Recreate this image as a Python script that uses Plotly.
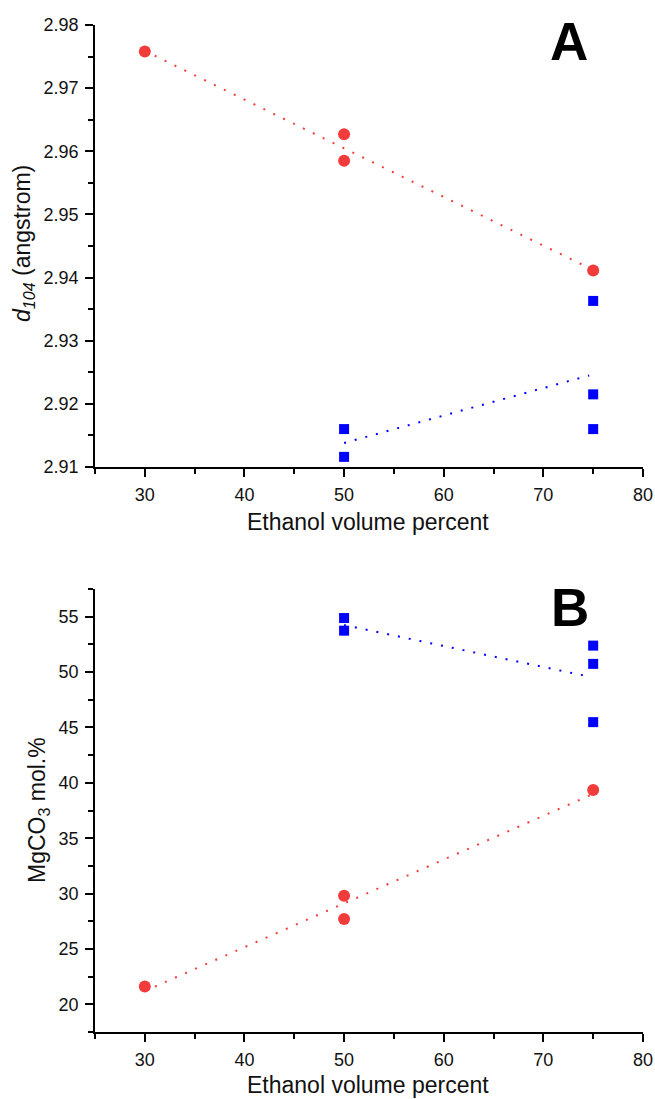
import plotly.graph_objects as go

# Panel A: d104 spacing vs ethanol volume percent
a_red_x = [30, 50, 50, 75]
a_red_y = [2.9758, 2.9627, 2.9585, 2.9411]
a_blue_x = [50, 50, 75, 75, 75]
a_blue_y = [2.9160, 2.9116, 2.9363, 2.9215, 2.9160]
a_red_fit_x = [30, 75]
a_red_fit_y = [2.9759, 2.9412]
a_blue_fit_x = [50, 74.6]
a_blue_fit_y = [2.9138, 2.9245]

# Panel B: MgCO3 content vs ethanol volume percent
b_red_x = [30, 50, 50, 75]
b_red_y = [21.6, 29.8, 27.7, 39.35]
b_blue_x = [50, 50, 75, 75, 75]
b_blue_y = [54.88, 53.74, 52.39, 50.74, 45.48]
b_red_fit_x = [30, 75]
b_red_fit_y = [21.2, 39.0]
b_blue_fit_x = [50, 74.8]
b_blue_fit_y = [54.25, 49.55]

x_ticks = [30, 40, 50, 60, 70, 80]
a_y_ticks = [2.91, 2.92, 2.93, 2.94, 2.95, 2.96, 2.97, 2.98]
b_y_ticks = [20, 25, 30, 35, 40, 45, 50, 55]

RED = "#F23C3C"
BLUE = "#0000FF"
FONT = "Liberation Sans, Arial, sans-serif"

fig = go.Figure()


def add_panel(xa, ya, rx, ry, bx, by, rfx, rfy, bfx, bfy):
    fig.add_trace(go.Scatter(x=rfx, y=rfy, mode="lines", xaxis=xa, yaxis=ya,
                             line=dict(color=RED, width=2, dash="2px,9px"),
                             showlegend=False, hoverinfo="skip"))
    fig.add_trace(go.Scatter(x=bfx, y=bfy, mode="lines", xaxis=xa, yaxis=ya,
                             line=dict(color=BLUE, width=2, dash="2px,9px"),
                             showlegend=False, hoverinfo="skip"))
    fig.add_trace(go.Scatter(x=rx, y=ry, mode="markers", xaxis=xa, yaxis=ya,
                             marker=dict(symbol="circle", size=12, color=RED,
                                         line=dict(width=0)),
                             showlegend=False))
    fig.add_trace(go.Scatter(x=bx, y=by, mode="markers", xaxis=xa, yaxis=ya,
                             marker=dict(symbol="square", size=10, color=BLUE,
                                         line=dict(width=0)),
                             showlegend=False))


add_panel("x", "y", a_red_x, a_red_y, a_blue_x, a_blue_y,
          a_red_fit_x, a_red_fit_y, a_blue_fit_x, a_blue_fit_y)
add_panel("x2", "y2", b_red_x, b_red_y, b_blue_x, b_blue_y,
          b_red_fit_x, b_red_fit_y, b_blue_fit_x, b_blue_fit_y)

axis_common = dict(
    showline=True, linecolor="black", linewidth=1.5, mirror=False,
    ticks="outside", ticklen=8, tickwidth=1.5, tickcolor="black",
    ticklabelstandoff=3,
    showgrid=False, zeroline=False, automargin=False,
    tickfont=dict(family=FONT, size=18, color="#111111"),
)
minor_common = dict(ticks="outside", ticklen=5, tickwidth=1.5,
                    tickcolor="black")

fig.update_layout(
    width=655, height=1099,
    margin=dict(l=95, r=12, t=25, b=67, autoexpand=False),
    paper_bgcolor="white", plot_bgcolor="white",
    font=dict(family=FONT, color="#111111"),
    xaxis=dict(domain=[0, 1], range=[25, 80], anchor="y",
               tickvals=x_ticks,
               minor=dict(dtick=5, tick0=25, **minor_common),
               **axis_common),
    yaxis=dict(domain=[0.5611, 1], range=[2.91, 2.98], anchor="x",
               tickvals=a_y_ticks, ticktext=[f"{v:.2f}" for v in a_y_ticks],
               minor=dict(dtick=0.005, tick0=2.91, **minor_common),
               **axis_common),
    xaxis2=dict(domain=[0, 1], range=[25, 80], anchor="y2",
                tickvals=x_ticks,
                minor=dict(dtick=5, tick0=25, **minor_common),
                **axis_common),
    yaxis2=dict(domain=[0, 0.4399], range=[17.5, 57.5], anchor="x2",
                tickvals=b_y_ticks,
                minor=dict(dtick=2.5, tick0=17.5, **minor_common),
                **axis_common),
)

# Axis titles and panel letters placed in pixel-accurate paper coordinates
H_PLOT = 1099 - 25 - 67
W_PLOT = 655 - 95 - 12


def py(p):
    return (1032 - p) / H_PLOT


def px(p):
    return (p - 95) / W_PLOT


title_font = dict(family=FONT, size=23, color="#111111")
fig.add_annotation(text="Ethanol volume percent", xref="paper", yref="paper",
                   x=px(368), y=py(522), showarrow=False, font=title_font,
                   xanchor="center", yanchor="middle")
fig.add_annotation(text="Ethanol volume percent", xref="paper", yref="paper",
                   x=px(368), y=py(1085), showarrow=False, font=title_font,
                   xanchor="center", yanchor="middle")
fig.add_annotation(text="<i>d</i><sub><i>104</i></sub> (angstrom)", xref="paper",
                   yref="paper", x=px(24), y=py(244), showarrow=False,
                   textangle=-90, font=title_font,
                   xanchor="center", yanchor="middle")
fig.add_annotation(text="MgCO<sub>3</sub> mol.%", xref="paper", yref="paper",
                   x=px(38), y=py(810), showarrow=False, textangle=-90,
                   font=title_font, xanchor="center", yanchor="middle")
fig.add_annotation(text="<b>A</b>", xref="paper", yref="paper",
                   x=px(569), y=py(42), showarrow=False,
                   font=dict(family=FONT, size=53, color="black"),
                   xanchor="center", yanchor="middle")
fig.add_annotation(text="<b>B</b>", xref="paper", yref="paper",
                   x=px(570), y=py(607), showarrow=False,
                   font=dict(family=FONT, size=53, color="black"),
                   xanchor="center", yanchor="middle")

fig.write_html("out.html")
